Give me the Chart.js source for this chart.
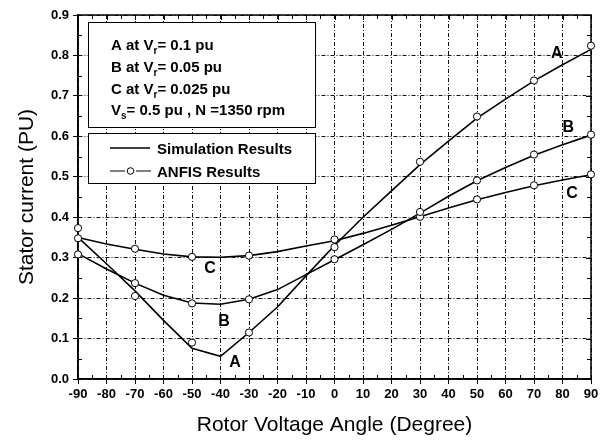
<!DOCTYPE html>
<html>
<head>
<meta charset="utf-8">
<script src="https://cdn.jsdelivr.net/npm/chart.js@4"></script>
<style>
  html, body { margin: 0; padding: 0; background: #fff; }
</style>
</head>
<body>
<canvas id="myChart" width="604" height="441"></canvas>
<script>
// simulation curves, every 10 degrees
const angles = [-90, -80, -70, -60, -50, -40, -30, -20, -10, 0, 10, 20, 30, 40, 50, 60, 70, 80, 90];
const simA = [0.350, 0.285, 0.218, 0.145, 0.076, 0.056, 0.115, 0.178, 0.255, 0.330, 0.400, 0.465, 0.530, 0.588, 0.645, 0.692, 0.737, 0.777, 0.815];
const simB = [0.310, 0.272, 0.237, 0.207, 0.188, 0.185, 0.197, 0.221, 0.258, 0.295, 0.332, 0.370, 0.410, 0.452, 0.490, 0.523, 0.553, 0.579, 0.603];
const simC = [0.350, 0.334, 0.321, 0.309, 0.302, 0.301, 0.305, 0.315, 0.329, 0.342, 0.360, 0.380, 0.401, 0.423, 0.443, 0.461, 0.478, 0.492, 0.505];

// ANFIS points
const anfisAngles = [-90, -70, -50, -30, 0, 30, 50, 70, 90];
const anfisA = [0.373, 0.205, 0.090, 0.115, 0.326, 0.537, 0.649, 0.738, 0.824];
const anfisB = [0.308, 0.237, 0.187, 0.197, 0.296, 0.413, 0.491, 0.555, 0.604];
const anfisC = [0.348, 0.322, 0.302, 0.305, 0.345, 0.401, 0.444, 0.479, 0.506];

// curve labels (data coordinates)
const curveNames = ['A', 'B', 'C', 'C', 'B', 'A'];
const curveLabelX = [78, 82, 83.3, -43.7, -38.8, -34.9];
const curveLabelY = [0.805, 0.622, 0.459, 0.274, 0.143, 0.040];

const FONT = "'Liberation Sans', Arial, sans-serif";

function pts(xs, ys) {
  return xs.map((v, i) => ({ x: v, y: ys[i] }));
}

function simSet(ys) {
  return {
    data: pts(angles, ys),
    borderColor: '#000',
    borderWidth: 1.6,
    pointRadius: 0,
    tension: 0,
    fill: false,
    clip: false,
    order: 2,
  };
}

function anfisSet(ys) {
  return {
    data: pts(anfisAngles, ys),
    showLine: false,
    pointRadius: 3.6,
    pointBackgroundColor: '#fff',
    pointBorderColor: '#000',
    pointBorderWidth: 1,
    clip: false,
    order: 1,
  };
}

// draws text with subscript parts
function drawRich(ctx, parts, x, y) {
  let cx = x;
  for (const p of parts) {
    ctx.font = p.sub ? 'bold 10px ' + FONT : 'bold 15px ' + FONT;
    ctx.fillText(p.t, cx, p.sub ? y + 4 : y);
    cx += ctx.measureText(p.t).width;
  }
}

const overlay = {
  id: 'overlay',
  beforeDatasetsDraw(chart) {
    const { ctx, chartArea: a, scales: { x, y } } = chart;
    ctx.save();
    ctx.strokeStyle = '#000';

    // minor ticks + top/right ticks
    ctx.lineWidth = 1;
    ctx.beginPath();
    for (let v = -90; v <= 90; v += 5) {
      const px = Math.round(x.getPixelForValue(v)) + 0.5;
      const major = v % 10 === 0;
      if (!major) {
        ctx.moveTo(px, a.bottom); ctx.lineTo(px, a.bottom - 4);
      }
      ctx.moveTo(px, a.top); ctx.lineTo(px, a.top + (major ? 5 : 4));
    }
    for (let i = 0; i <= 18; i++) {
      const py = Math.round(y.getPixelForValue(i * 0.05)) + 0.5;
      const major = i % 2 === 0;
      if (!major) {
        ctx.moveTo(a.left, py); ctx.lineTo(a.left + 4, py);
      }
      ctx.moveTo(a.right, py); ctx.lineTo(a.right - (major ? 5 : 4), py);
    }
    ctx.stroke();

    // frame
    ctx.lineWidth = 1.5;
    ctx.strokeRect(a.left, a.top, a.right - a.left, a.bottom - a.top);
    ctx.restore();
  },
  afterDraw(chart) {
    const { ctx, chartArea: a, scales: { x, y } } = chart;
    ctx.save();
    ctx.strokeStyle = '#000';

    // curve labels
    ctx.fillStyle = '#000';
    ctx.font = 'bold 16px ' + FONT;
    ctx.textAlign = 'center';
    ctx.textBaseline = 'middle';
    curveNames.forEach((n, i) => {
      ctx.fillText(n, x.getPixelForValue(curveLabelX[i]), y.getPixelForValue(curveLabelY[i]));
    });

    // info boxes
    const bx = a.left + 10, bw = 227;
    ctx.fillStyle = '#fff';
    ctx.fillRect(bx, a.top + 7, bw, 105);
    ctx.fillRect(bx, a.top + 118, bw, 50);
    ctx.lineWidth = 1;
    ctx.strokeRect(bx + 0.5, a.top + 7.5, bw, 105);
    ctx.strokeRect(bx + 0.5, a.top + 118.5, bw, 50);

    ctx.fillStyle = '#000';
    ctx.textAlign = 'left';
    ctx.textBaseline = 'alphabetic';
    const tx = a.left + 33;
    drawRich(ctx, [{ t: 'A at V' }, { t: 'r', sub: true }, { t: '= 0.1 pu' }], tx, a.top + 34.5);
    drawRich(ctx, [{ t: 'B at V' }, { t: 'r', sub: true }, { t: '= 0.05 pu' }], tx, a.top + 57);
    drawRich(ctx, [{ t: 'C at V' }, { t: 'r', sub: true }, { t: '= 0.025 pu' }], tx, a.top + 79);
    drawRich(ctx, [{ t: 'V' }, { t: 's', sub: true }, { t: '= 0.5 pu , N =1350 rpm' }], tx, a.top + 100);

    // series legend
    ctx.lineWidth = 1.6;
    ctx.beginPath();
    ctx.moveTo(tx - 1, a.top + 133); ctx.lineTo(tx + 39, a.top + 133);
    ctx.stroke();
    ctx.lineWidth = 1;
    ctx.beginPath();
    ctx.moveTo(tx - 1, a.top + 156); ctx.lineTo(tx + 14, a.top + 156);
    ctx.moveTo(tx + 25, a.top + 156); ctx.lineTo(tx + 40, a.top + 156);
    ctx.stroke();
    ctx.beginPath();
    ctx.arc(tx + 19.5, a.top + 156, 3.3, 0, Math.PI * 2);
    ctx.fillStyle = '#fff';
    ctx.fill();
    ctx.stroke();
    ctx.fillStyle = '#000';
    drawRich(ctx, [{ t: 'Simulation Results' }], tx + 46, a.top + 139);
    drawRich(ctx, [{ t: 'ANFIS Results' }], tx + 46, a.top + 161.5);

    ctx.restore();
  }
};

const config = {
  type: 'line',
  data: {
    datasets: [
      simSet(simA), simSet(simB), simSet(simC),
      anfisSet(anfisA), anfisSet(anfisB), anfisSet(anfisC),
    ],
  },
  options: {
    responsive: false,
    animation: false,
    layout: { padding: { top: 15, right: 13, left: 0, bottom: 0 } },
    plugins: {
      legend: { display: false },
      tooltip: { enabled: false },
    },
    scales: {
      x: {
        type: 'linear',
        min: -90,
        max: 90,
        afterFit: (s) => { s.height = 62; },
        ticks: {
          stepSize: 10,
          color: '#000',
          padding: 3,
          maxRotation: 0,
          font: { family: FONT, size: 13, weight: 'bold' },
          callback: (v) => v.toFixed(0),
        },
        grid: { color: '#111', lineWidth: 1, tickLength: 5, tickColor: '#000' },
        border: { color: '#000', width: 1.5, dash: [4, 2, 1, 2] },
        title: {
          display: true,
          text: 'Rotor Voltage Angle (Degree)',
          color: '#000',
          font: { family: FONT, size: 21 },
          padding: { bottom: 3 },
        },
      },
      y: {
        min: 0,
        max: 0.9,
        afterFit: (s) => { s.width = 78; },
        ticks: {
          stepSize: 0.1,
          color: '#000',
          padding: 4,
          font: { family: FONT, size: 13, weight: 'bold' },
          callback: (v) => v.toFixed(1),
        },
        grid: { color: '#111', lineWidth: 1, tickLength: 5, tickColor: '#000' },
        border: { color: '#000', width: 1.5, dash: [4, 2, 1, 2] },
        title: {
          display: true,
          text: 'Stator current (PU)',
          color: '#000',
          font: { family: FONT, size: 21 },
          padding: { top: 15 },
        },
      },
    },
  },
  plugins: [overlay],
};

const chart = new Chart(document.getElementById('myChart').getContext('2d'), config);
</script>
</body>
</html>
